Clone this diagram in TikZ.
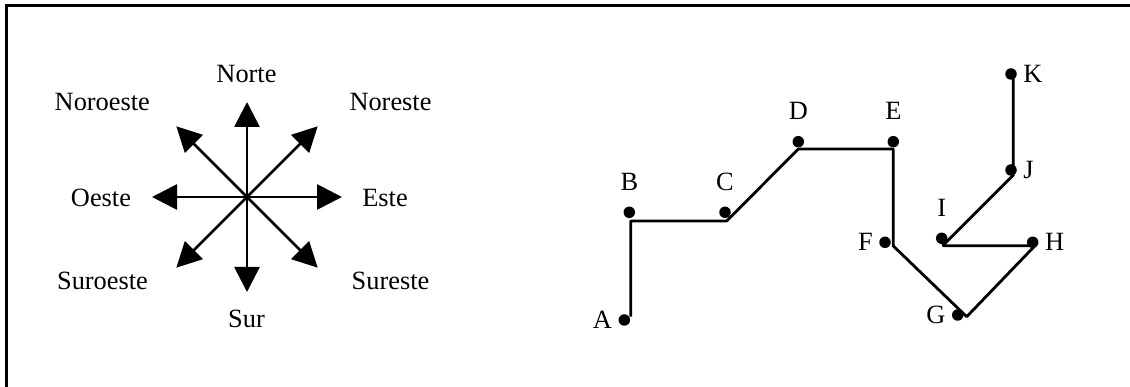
\documentclass[tikz,border=0pt]{standalone}
\usepackage{fontspec}
\setmainfont{Liberation Serif}
\usetikzlibrary{arrows.meta}

\tikzset{
	frameline/.style={line width=1.7pt},
	windarrow/.style={line width=1.6pt, -{Triangle[length=0.5cm, width=0.5cm]}},
	routeline/.style={line width=1.6pt, line join=bevel},
	spot/.style={circle, fill=black, inner sep=0pt, minimum size=0.23cm},
	above label/.style={label distance=0.19cm}
}

\begin{document}
\begin{tikzpicture}[every node/.style={font=\fontsize{15}{18}\selectfont}]
	\useasboundingbox (0,0) rectangle (22.6,7.74);
	% frame, only top and left edges
	\coordinate (fb) at (0.138,0);
	\coordinate (fc) at (0.138,7.626);
	\coordinate (fr) at (22.6,7.626);
	\draw[frameline] (fb) -- (fc) -- (fr);

	% compass
	\coordinate (O) at (4.94,3.80);
	\foreach \ang/\nm/\len in {90/N/1.9, 270/S/1.9, 0/E/1.9, 180/W/1.9, 45/NE/2.0, 135/NW/2.0, 225/SW/2.0, 315/SE/2.0} {
		\path (O) ++(\ang:\len) coordinate (t\nm);
		\draw[windarrow] (O) -- (t\nm);
	}
	\node[anchor=base] (norte)    at (4.93,6.094) {Norte};
	\node[anchor=base] (noroeste) at (2.046,5.52) {Noroeste};
	\node[anchor=base] (noreste)  at (7.81,5.52)  {Noreste};
	\node[anchor=base] (oeste)    at (2.02,3.606) {Oeste};
	\node[anchor=base] (este)     at (7.70,3.606) {Este};
	\node[anchor=base] (suroeste) at (2.05,1.954) {Suroeste};
	\node[anchor=base] (sureste)  at (7.81,1.954) {Sureste};
	\node[anchor=base] (sur)      at (4.93,1.186) {Sur};

	% route
	\coordinate (cA) at (12.614,1.406);
	\coordinate (cB) at (12.614,3.32);
	\coordinate (cC) at (14.534,3.32);
	\coordinate (cD) at (15.966,4.76);
	\coordinate (cE) at (17.866,4.76);
	\coordinate (cF) at (17.866,2.82);
	\coordinate (cG) at (19.334,1.406);
	\coordinate (cH) at (20.70,2.826);
	\coordinate (cI) at (18.854,2.826);
	\coordinate (cJ) at (20.266,4.24);
	\coordinate (cK) at (20.266,6.206);
	\draw[routeline] (cA) -- (cB) -- (cC) -- (cD) -- (cE) -- (cF) -- (cG) -- (cH) -- (cI) -- (cJ) -- (cK);

	\node[spot, label=left:A] (A) at (12.486,1.34) {};
	\node[spot, label={[above label]above:B}] (B) at (12.586,3.494) {};
	\node[spot, label={[above label]above:C}] (C) at (14.5,3.494) {};
	\node[spot, label={[above label]above:D}] (D) at (15.966,4.906) {};
	\node[spot, label={[above label]above:E}] (E) at (17.866,4.906) {};
	\node[spot, label=left:F] (F) at (17.70,2.894) {};
	\node[spot, label=left:G] (G) at (19.154,1.44) {};
	\node[spot, label=right:H] (H) at (20.654,2.894) {};
	\node[spot, label={[above label]above:I}] (I) at (18.834,2.974) {};
	\node[spot, label=right:J] (J) at (20.22,4.34) {};
	\node[spot, label=right:K] (K) at (20.22,6.26) {};
\end{tikzpicture}
\end{document}
